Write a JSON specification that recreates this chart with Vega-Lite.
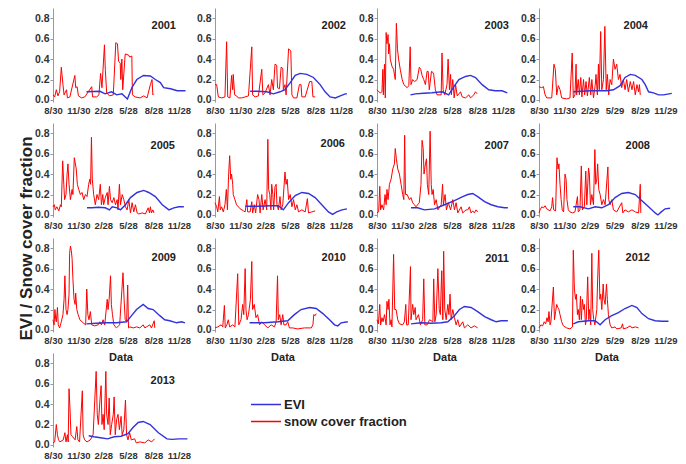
{
"$schema":"https://vega.github.io/schema/vega-lite/v6.json",
"padding":{"left":16,"top":8,"right":5,"bottom":5},
"bounds":"flush",
"columns":4,
"spacing":{"row":21,"column":27},
"resolve":{"scale":{"color":"independent"},"legend":{"color":"independent"}},
"data":{"values":[
{"yr":2001,"s":"EVI","d":[121,170,188,212,230,249,269,285,303,327,352,370,388,400,425,449,479],"v":[0.08,0.085,0.06,0.08,0.05,0.06,0.01,0.12,0.2,0.24,0.235,0.2,0.17,0.12,0.11,0.09,0.09]},
{"yr":2001,"s":"snow cover fraction","d":[0,6,12,18,24,30,36,40,49,52,61,79,82,87,92,103,115,140,143,158,166,172,177,186,189,194,204,218,227,233,237,243,245,249,252,261,273,277,285,287,297,315,328,340,352,358,361,364],"v":[0.05,0.03,0.1,0.04,0.08,0.32,0.15,0.05,0.1,0.02,0.03,0.24,0.12,0.13,0.04,0.02,0.03,0.13,0.03,0.03,0.05,0.26,0.12,0.54,0.3,0.07,0.04,0.05,0.56,0.55,0.38,0.36,0.2,0.4,0.1,0.45,0.44,0.42,0.43,0.05,0.03,0.02,0.04,0.02,0.15,0.2,0.05,0.06]},
{"yr":2002,"s":"EVI","d":[127,151,187,211,235,253,272,290,308,332,356,380,398,416,435,453,471,477],"v":[0.085,0.085,0.08,0.06,0.08,0.1,0.17,0.24,0.26,0.25,0.22,0.15,0.08,0.03,0.02,0.04,0.06,0.06]},
{"yr":2002,"s":"snow cover fraction","d":[0,6,12,24,36,42,46,54,60,64,66,71,78,84,97,109,121,133,136,145,157,169,173,181,193,199,205,211,217,223,226,233,239,245,247,253,257,266,274,278,284,296,305,311,314,326,342,350,354,362],"v":[0.15,0.15,0.03,0.02,0.03,0.57,0.03,0.02,0.24,0.1,0.25,0.05,0.04,0.02,0.02,0.03,0.04,0.52,0.05,0.03,0.04,0.3,0.05,0.07,0.15,0.05,0.2,0.1,0.35,0.34,0.12,0.11,0.32,0.31,0.1,0.15,0.05,0.5,0.48,0.05,0.02,0.02,0.15,0.15,0.03,0.03,0.18,0.18,0.03,0.03]},
{"yr":2003,"s":"EVI","d":[121,139,169,199,235,259,278,296,320,338,356,380,404,428,452,471],"v":[0.05,0.06,0.065,0.07,0.08,0.05,0.13,0.2,0.23,0.24,0.22,0.15,0.1,0.09,0.09,0.07]},
{"yr":2003,"s":"snow cover fraction","d":[0,6,12,18,21,23,27,30,33,36,40,42,45,48,54,60,66,70,74,78,84,91,97,109,115,120,123,129,136,145,153,158,163,169,175,181,185,189,197,202,205,211,217,232,235,239,245,253,257,262,266,269,274,279,284,290,302,308,320,332,338,350,356,362],"v":[0.1,0.08,0.07,0.08,0.3,0.05,0.35,0.02,0.66,0.55,0.64,0.45,0.55,0.4,0.33,0.3,0.2,0.75,0.5,0.4,0.3,0.2,0.15,0.12,0.14,0.52,0.15,0.2,0.18,0.2,0.32,0.3,0.24,0.2,0.15,0.28,0.28,0.1,0.28,0.27,0.25,0.1,0.05,0.05,0.46,0.1,0.05,0.15,0.4,0.1,0.25,0.05,0.2,0.02,0.15,0.04,0.08,0.03,0.02,0.05,0.02,0.05,0.08,0.06]},
{"yr":2004,"s":"EVI","d":[124,185,245,269,293,311,330,348,372,384,396,414,432,450,480],"v":[0.08,0.09,0.09,0.1,0.14,0.22,0.25,0.24,0.2,0.15,0.08,0.07,0.05,0.05,0.065]},
{"yr":2004,"s":"snow cover fraction","d":[0,10,16,22,28,46,54,59,64,70,76,82,100,112,120,124,130,134,136,142,146,151,155,161,165,170,175,182,187,191,197,203,206,211,215,218,223,227,233,238,243,247,252,257,263,269,275,281,287,293,299,305,311,317,323,330,336,342,348,354,360,363,366],"v":[0.13,0.12,0.13,0.05,0.02,0.02,0.35,0.3,0.05,0.14,0.1,0.02,0.01,0.02,0.46,0.02,0.05,0.35,0.05,0.2,0.05,0.22,0.03,0.2,0.05,0.18,0.04,0.22,0.05,0.2,0.02,0.14,0.25,0.05,0.35,0.1,0.67,0.1,0.2,0.72,0.1,0.25,0.05,0.2,0.15,0.4,0.3,0.35,0.2,0.25,0.12,0.2,0.1,0.2,0.08,0.18,0.1,0.18,0.05,0.15,0.08,0.15,0.05]},
{"yr":2005,"s":"EVI","d":[123,141,165,189,204,214,232,244,262,280,304,328,346,370,395,419,437,455,473],"v":[0.07,0.07,0.075,0.07,0.05,0.08,0.07,0.05,0.1,0.17,0.22,0.24,0.22,0.18,0.1,0.05,0.07,0.08,0.08]},
{"yr":2005,"s":"snow cover fraction","d":[0,5,8,14,21,27,30,35,39,42,47,51,54,58,63,69,72,77,81,84,88,93,99,105,111,117,123,129,133,136,139,142,147,153,159,165,171,175,180,183,189,196,199,204,208,214,220,226,232,235,240,244,250,256,262,268,274,280,286,292,298,304,310,322,334,344,349,352,356,361,365],"v":[0.08,0.1,0.05,0.08,0.04,0.1,0.08,0.53,0.3,0.15,0.2,0.4,0.5,0.3,0.15,0.25,0.2,0.56,0.5,0.45,0.3,0.25,0.2,0.22,0.15,0.2,0.18,0.3,0.35,0.3,0.76,0.35,0.2,0.1,0.2,0.15,0.3,0.1,0.2,0.1,0.17,0.22,0.1,0.28,0.15,0.12,0.17,0.1,0.15,0.05,0.3,0.1,0.2,0.15,0.08,0.05,0.15,0.02,0.12,0.03,0.1,0.02,0.01,0.02,0.01,0.07,0.02,0.08,0.02,0.05,0.02]},
{"yr":2006,"s":"EVI","d":[110,160,200,229,247,266,290,314,338,362,386,410,425,440,459,477],"v":[0.085,0.085,0.09,0.09,0.05,0.12,0.19,0.22,0.21,0.17,0.1,0.03,0.005,0.03,0.05,0.06]},
{"yr":2006,"s":"snow cover fraction","d":[0,6,10,16,19,24,30,36,41,45,49,53,57,60,64,66,72,78,91,103,109,115,118,127,133,136,142,147,154,159,163,169,174,181,187,191,194,198,202,205,209,212,217,221,224,229,235,239,245,253,257,261,266,272,278,284,290,296,302,314,326,334,338,350,362],"v":[0.12,0.08,0.03,0.18,0.05,0.08,0.03,0.1,0.25,0.05,0.38,0.58,0.35,0.4,0.3,0.2,0.15,0.1,0.06,0.04,0.03,0.15,0.03,0.03,0.13,0.02,0.1,0.02,0.2,0.15,0.02,0.2,0.05,0.15,0.05,0.74,0.25,0.2,0.05,0.3,0.2,0.05,0.28,0.3,0.1,0.05,0.18,0.05,0.1,0.42,0.3,0.35,0.15,0.2,0.08,0.15,0.05,0.1,0.03,0.05,0.03,0.16,0.02,0.03,0.04]},
{"yr":2007,"s":"EVI","d":[123,147,171,208,244,280,310,328,346,364,389,413,437,461,473],"v":[0.07,0.07,0.05,0.06,0.1,0.14,0.18,0.2,0.21,0.18,0.13,0.1,0.08,0.07,0.07]},
{"yr":2007,"s":"snow cover fraction","d":[0,6,10,13,18,24,29,33,36,40,45,51,57,63,66,70,75,81,87,93,97,100,103,109,117,123,129,135,141,153,159,163,167,170,175,179,182,187,192,196,199,203,208,214,220,232,237,240,246,251,258,266,274,280,286,292,304,310,322,328,334,340,346,352,358,364],"v":[0.02,0.03,0.28,0.05,0.1,0.05,0.2,0.1,0.25,0.15,0.3,0.35,0.45,0.5,0.65,0.55,0.45,0.4,0.3,0.2,0.15,0.78,0.2,0.2,0.15,0.17,0.12,0.1,0.08,0.12,0.3,0.73,0.65,0.4,0.5,0.55,0.3,0.2,0.82,0.3,0.2,0.25,0.1,0.15,0.05,0.1,0.3,0.1,0.2,0.05,0.12,0.05,0.15,0.05,0.12,0.02,0.08,0.02,0.05,0.05,0.08,0.02,0.04,0.02,0.05,0.03]},
{"yr":2008,"s":"EVI","d":[124,148,179,203,227,251,275,299,323,348,372,396,420,430,442,456,474],"v":[0.08,0.08,0.06,0.08,0.07,0.1,0.17,0.21,0.22,0.2,0.14,0.08,0.02,0.0,0.03,0.06,0.065]},
{"yr":2008,"s":"snow cover fraction","d":[0,4,10,16,22,28,40,46,49,53,60,65,69,72,76,80,84,89,94,98,101,106,112,121,130,139,142,148,153,157,164,169,173,179,182,186,191,197,202,205,209,212,216,221,227,233,239,249,252,257,263,269,281,299,303,311,323,336,348,360,366,368],"v":[0.02,0.05,0.08,0.07,0.09,0.06,0.04,0.08,0.17,0.05,0.04,0.56,0.45,0.5,0.3,0.15,0.05,0.03,0.4,0.35,0.15,0.05,0.03,0.02,0.03,0.18,0.03,0.05,0.48,0.05,0.08,0.43,0.1,0.46,0.4,0.1,0.2,0.1,0.64,0.3,0.35,0.5,0.25,0.2,0.1,0.15,0.1,0.47,0.15,0.1,0.15,0.05,0.03,0.12,0.02,0.05,0.03,0.05,0.03,0.02,0.3,0.02]},
{"yr":2009,"s":"EVI","d":[121,157,193,229,266,284,302,326,344,362,386,404,422,447,465,477],"v":[0.06,0.065,0.07,0.07,0.08,0.14,0.2,0.25,0.21,0.2,0.14,0.1,0.09,0.07,0.08,0.07]},
{"yr":2009,"s":"snow cover fraction","d":[0,4,7,10,12,16,19,24,30,36,40,43,47,51,54,58,60,63,66,69,72,76,80,82,86,91,97,109,118,122,126,130,135,140,151,163,169,175,181,187,196,199,203,208,211,215,220,229,241,253,257,261,266,270,273,278,290,302,314,326,332,338,350,356,366,368],"v":[0.1,0.05,0.2,0.1,0.08,0.22,0.05,0.02,0.08,0.15,0.3,0.53,0.2,0.15,0.2,0.35,0.75,0.82,0.78,0.7,0.5,0.3,0.25,0.36,0.2,0.15,0.1,0.07,0.05,0.4,0.15,0.1,0.18,0.05,0.04,0.05,0.08,0.05,0.1,0.05,0.3,0.2,0.3,0.53,0.25,0.15,0.05,0.02,0.05,0.56,0.3,0.1,0.08,0.44,0.02,0.03,0.02,0.03,0.02,0.05,0.02,0.03,0.05,0.02,0.09,0.02]},
{"yr":2010,"s":"EVI","d":[125,179,227,263,287,311,342,366,390,414,432,444,456,480],"v":[0.07,0.07,0.08,0.09,0.15,0.2,0.22,0.21,0.16,0.1,0.05,0.04,0.07,0.08]},
{"yr":2010,"s":"snow cover fraction","d":[0,10,22,28,34,37,43,48,53,64,72,82,86,94,100,104,109,112,116,121,128,133,136,142,148,154,161,169,179,191,203,215,221,226,229,234,239,245,249,257,263,269,281,299,323,348,354,357,362,366],"v":[0.02,0.03,0.05,0.03,0.24,0.02,0.05,0.1,0.03,0.05,0.03,0.55,0.05,0.1,0.25,0.15,0.6,0.2,0.1,0.15,0.3,0.67,0.2,0.25,0.12,0.15,0.05,0.08,0.05,0.02,0.05,0.03,0.08,0.53,0.1,0.15,0.05,0.15,0.05,0.05,0.08,0.02,0.02,0.01,0.02,0.02,0.05,0.15,0.14,0.16]},
{"yr":2011,"s":"EVI","d":[123,159,196,232,256,280,298,316,340,364,389,413,431,449,473],"v":[0.06,0.07,0.065,0.07,0.08,0.14,0.2,0.23,0.22,0.18,0.13,0.1,0.08,0.09,0.09]},
{"yr":2011,"s":"snow cover fraction","d":[0,5,10,13,18,22,27,33,36,40,43,47,51,54,60,64,69,75,81,93,99,104,107,113,121,123,129,133,138,141,150,157,165,169,173,181,190,202,205,209,214,220,225,229,234,238,241,245,250,256,260,264,268,274,280,286,292,298,310,316,328,340,352,364],"v":[0.1,0.06,0.25,0.05,0.12,0.08,0.15,0.05,0.28,0.2,0.3,0.05,0.1,0.03,0.74,0.2,0.2,0.1,0.06,0.05,0.08,0.25,0.05,0.05,0.62,0.1,0.25,0.15,0.22,0.1,0.15,0.05,0.1,0.5,0.05,0.05,0.1,0.08,0.5,0.08,0.15,0.6,0.2,0.15,0.58,0.1,0.77,0.2,0.1,0.25,0.15,0.35,0.1,0.2,0.12,0.05,0.1,0.03,0.08,0.02,0.05,0.02,0.04,0.02]},
{"yr":2012,"s":"EVI","d":[124,142,179,203,221,239,263,287,311,336,354,372,396,420,444,468],"v":[0.06,0.08,0.09,0.09,0.05,0.1,0.14,0.17,0.21,0.24,0.22,0.16,0.11,0.09,0.085,0.085]},
{"yr":2012,"s":"snow cover fraction","d":[0,7,13,19,24,29,33,36,40,43,52,56,60,64,68,72,76,82,88,100,112,121,124,128,132,135,139,142,146,150,153,157,161,164,168,171,176,180,183,187,191,194,198,202,209,212,216,220,223,227,232,235,239,244,247,251,257,263,275,281,297,302,305,317,330,336,348,360],"v":[0.02,0.05,0.04,0.08,0.06,0.12,0.08,0.18,0.05,0.08,0.42,0.1,0.18,0.25,0.22,0.2,0.15,0.08,0.04,0.02,0.01,0.03,0.78,0.4,0.3,0.35,0.15,0.2,0.1,0.33,0.1,0.3,0.2,0.25,0.05,0.1,0.52,0.1,0.2,0.05,0.75,0.2,0.1,0.05,0.2,0.5,0.78,0.3,0.35,0.2,0.45,0.3,0.25,0.45,0.3,0.15,0.05,0.02,0.03,0.01,0.02,0.06,0.01,0.02,0.04,0.02,0.03,0.02]},
{"yr":2013,"s":"EVI","d":[129,148,172,197,221,246,271,289,308,326,351,381,412,430,455,486],"v":[0.09,0.08,0.07,0.06,0.08,0.085,0.11,0.17,0.22,0.23,0.2,0.12,0.06,0.055,0.06,0.06]},
{"yr":2013,"s":"snow cover fraction","d":[0,6,12,16,20,25,37,43,47,52,55,58,62,65,71,80,86,90,96,106,109,114,123,135,145,156,160,164,170,174,177,181,185,191,194,199,203,207,212,218,221,225,230,235,240,246,250,256,262,266,271,277,283,295,301,314,332,344,357,367],"v":[0.02,0.03,0.2,0.1,0.05,0.03,0.05,0.12,0.03,0.1,0.03,0.55,0.32,0.1,0.08,0.05,0.18,0.05,0.03,0.53,0.1,0.05,0.03,0.05,0.1,0.72,0.3,0.2,0.45,0.58,0.2,0.3,0.15,0.72,0.3,0.2,0.46,0.1,0.2,0.3,0.47,0.1,0.25,0.3,0.15,0.28,0.1,0.15,0.44,0.1,0.05,0.12,0.05,0.06,0.02,0.03,0.02,0.05,0.03,0.06]}
]},
"concat":[
{"width":135,"height":94,"title":{"text":"2001","anchor":"end","frame":"group","offset":-32,"dx":-12,"baseline":"alphabetic"},
 "transform":[{"filter":"datum.yr==2001"},{"flatten":["d","v"]}],
 "encoding":{"x":{"field":"d","type":"quantitative","scale":{"domain":[0,488],"nice":false,"zero":false},"axis":{"values":[0,92,182,271,363,455],"labelExpr":"datum.value==0?'8/30':datum.value==92?'11/30':datum.value==182?'2/28':datum.value==183?'2/29':datum.value==271?'5/28':datum.value==273?'5/29':datum.value==363?'8/28':datum.value==365?'8/29':datum.value==455?'11/28':'11/29'","title":null}},
  "y":{"field":"v","type":"quantitative","scale":{"domain":[-0.02,0.9],"nice":false},"axis":{"values":[0,0.2,0.4,0.6,0.8],"format":".1f","title":null}},
  "color":{"field":"s","type":"nominal","scale":{"domain":["EVI","snow cover fraction"],"range":["#3232dc","#ff0000"]},"legend":null}},
 "layer":[{"transform":[{"filter":"datum.s!='EVI'"}],"mark":{"type":"line","strokeWidth":1}},{"transform":[{"filter":"datum.s=='EVI'"}],"mark":{"type":"line","strokeWidth":1.4}}]},
{"width":135,"height":94,"title":{"text":"2002","anchor":"end","frame":"group","offset":-32,"dx":-4,"baseline":"alphabetic"},
 "transform":[{"filter":"datum.yr==2002"},{"flatten":["d","v"]}],
 "encoding":{"x":{"field":"d","type":"quantitative","scale":{"domain":[0,488],"nice":false,"zero":false},"axis":{"values":[0,92,182,271,363,455],"labelExpr":"datum.value==0?'8/30':datum.value==92?'11/30':datum.value==182?'2/28':datum.value==183?'2/29':datum.value==271?'5/28':datum.value==273?'5/29':datum.value==363?'8/28':datum.value==365?'8/29':datum.value==455?'11/28':'11/29'","title":null}},
  "y":{"field":"v","type":"quantitative","scale":{"domain":[-0.02,0.9],"nice":false},"axis":{"values":[0,0.2,0.4,0.6,0.8],"format":".1f","title":null}},
  "color":{"field":"s","type":"nominal","scale":{"domain":["EVI","snow cover fraction"],"range":["#3232dc","#ff0000"]},"legend":null}},
 "layer":[{"transform":[{"filter":"datum.s!='EVI'"}],"mark":{"type":"line","strokeWidth":1}},{"transform":[{"filter":"datum.s=='EVI'"}],"mark":{"type":"line","strokeWidth":1.4}}]},
{"width":135,"height":94,"title":{"text":"2003","anchor":"end","frame":"group","offset":-32,"dx":-3,"baseline":"alphabetic"},
 "transform":[{"filter":"datum.yr==2003"},{"flatten":["d","v"]}],
 "encoding":{"x":{"field":"d","type":"quantitative","scale":{"domain":[0,488],"nice":false,"zero":false},"axis":{"values":[0,92,182,271,363,455],"labelExpr":"datum.value==0?'8/30':datum.value==92?'11/30':datum.value==182?'2/28':datum.value==183?'2/29':datum.value==271?'5/28':datum.value==273?'5/29':datum.value==363?'8/28':datum.value==365?'8/29':datum.value==455?'11/28':'11/29'","title":null}},
  "y":{"field":"v","type":"quantitative","scale":{"domain":[-0.02,0.9],"nice":false},"axis":{"values":[0,0.2,0.4,0.6,0.8],"format":".1f","title":null}},
  "color":{"field":"s","type":"nominal","scale":{"domain":["EVI","snow cover fraction"],"range":["#3232dc","#ff0000"]},"legend":null}},
 "layer":[{"transform":[{"filter":"datum.s!='EVI'"}],"mark":{"type":"line","strokeWidth":1}},{"transform":[{"filter":"datum.s=='EVI'"}],"mark":{"type":"line","strokeWidth":1.4}}]},
{"width":135,"height":94,"title":{"text":"2004","anchor":"end","frame":"group","offset":-32,"dx":-26,"baseline":"alphabetic"},
 "transform":[{"filter":"datum.yr==2004"},{"flatten":["d","v"]}],
 "encoding":{"x":{"field":"d","type":"quantitative","scale":{"domain":[0,488],"nice":false,"zero":false},"axis":{"values":[0,92,183,273,365,457],"labelExpr":"datum.value==0?'8/30':datum.value==92?'11/30':datum.value==182?'2/28':datum.value==183?'2/29':datum.value==271?'5/28':datum.value==273?'5/29':datum.value==363?'8/28':datum.value==365?'8/29':datum.value==455?'11/28':'11/29'","title":null}},
  "y":{"field":"v","type":"quantitative","scale":{"domain":[-0.02,0.9],"nice":false},"axis":{"values":[0,0.2,0.4,0.6,0.8],"format":".1f","title":null}},
  "color":{"field":"s","type":"nominal","scale":{"domain":["EVI","snow cover fraction"],"range":["#3232dc","#ff0000"]},"legend":null}},
 "layer":[{"transform":[{"filter":"datum.s!='EVI'"}],"mark":{"type":"line","strokeWidth":1}},{"transform":[{"filter":"datum.s=='EVI'"}],"mark":{"type":"line","strokeWidth":1.4}}]},
{"width":135,"height":94,"title":{"text":"2005","anchor":"end","frame":"group","offset":-37,"dx":-13,"baseline":"alphabetic"},
 "transform":[{"filter":"datum.yr==2005"},{"flatten":["d","v"]}],
 "encoding":{"x":{"field":"d","type":"quantitative","scale":{"domain":[0,488],"nice":false,"zero":false},"axis":{"values":[0,92,182,271,363,455],"labelExpr":"datum.value==0?'8/30':datum.value==92?'11/30':datum.value==182?'2/28':datum.value==183?'2/29':datum.value==271?'5/28':datum.value==273?'5/29':datum.value==363?'8/28':datum.value==365?'8/29':datum.value==455?'11/28':'11/29'","title":null}},
  "y":{"field":"v","type":"quantitative","scale":{"domain":[-0.02,0.9],"nice":false},"axis":{"values":[0,0.2,0.4,0.6,0.8],"format":".1f","title":"EVI / Snow cover fraction","titleX":-22,"titleY":115,"titleBaseline":"alphabetic","titleAlign":"center","titleAngle":-90}},
  "color":{"field":"s","type":"nominal","scale":{"domain":["EVI","snow cover fraction"],"range":["#3232dc","#ff0000"]},"legend":null}},
 "layer":[{"transform":[{"filter":"datum.s!='EVI'"}],"mark":{"type":"line","strokeWidth":1}},{"transform":[{"filter":"datum.s=='EVI'"}],"mark":{"type":"line","strokeWidth":1.4}}]},
{"width":135,"height":94,"title":{"text":"2006","anchor":"end","frame":"group","offset":-35,"dx":-5,"baseline":"alphabetic"},
 "transform":[{"filter":"datum.yr==2006"},{"flatten":["d","v"]}],
 "encoding":{"x":{"field":"d","type":"quantitative","scale":{"domain":[0,488],"nice":false,"zero":false},"axis":{"values":[0,92,182,271,363,455],"labelExpr":"datum.value==0?'8/30':datum.value==92?'11/30':datum.value==182?'2/28':datum.value==183?'2/29':datum.value==271?'5/28':datum.value==273?'5/29':datum.value==363?'8/28':datum.value==365?'8/29':datum.value==455?'11/28':'11/29'","title":null}},
  "y":{"field":"v","type":"quantitative","scale":{"domain":[-0.02,0.9],"nice":false},"axis":{"values":[0,0.2,0.4,0.6,0.8],"format":".1f","title":null}},
  "color":{"field":"s","type":"nominal","scale":{"domain":["EVI","snow cover fraction"],"range":["#3232dc","#ff0000"]},"legend":null}},
 "layer":[{"transform":[{"filter":"datum.s!='EVI'"}],"mark":{"type":"line","strokeWidth":1}},{"transform":[{"filter":"datum.s=='EVI'"}],"mark":{"type":"line","strokeWidth":1.4}}]},
{"width":135,"height":94,"title":{"text":"2007","anchor":"end","frame":"group","offset":-37,"dx":-3,"baseline":"alphabetic"},
 "transform":[{"filter":"datum.yr==2007"},{"flatten":["d","v"]}],
 "encoding":{"x":{"field":"d","type":"quantitative","scale":{"domain":[0,488],"nice":false,"zero":false},"axis":{"values":[0,92,182,271,363,455],"labelExpr":"datum.value==0?'8/30':datum.value==92?'11/30':datum.value==182?'2/28':datum.value==183?'2/29':datum.value==271?'5/28':datum.value==273?'5/29':datum.value==363?'8/28':datum.value==365?'8/29':datum.value==455?'11/28':'11/29'","title":null}},
  "y":{"field":"v","type":"quantitative","scale":{"domain":[-0.02,0.9],"nice":false},"axis":{"values":[0,0.2,0.4,0.6,0.8],"format":".1f","title":null}},
  "color":{"field":"s","type":"nominal","scale":{"domain":["EVI","snow cover fraction"],"range":["#3232dc","#ff0000"]},"legend":null}},
 "layer":[{"transform":[{"filter":"datum.s!='EVI'"}],"mark":{"type":"line","strokeWidth":1}},{"transform":[{"filter":"datum.s=='EVI'"}],"mark":{"type":"line","strokeWidth":1.4}}]},
{"width":135,"height":94,"title":{"text":"2008","anchor":"end","frame":"group","offset":-37,"dx":-24,"baseline":"alphabetic"},
 "transform":[{"filter":"datum.yr==2008"},{"flatten":["d","v"]}],
 "encoding":{"x":{"field":"d","type":"quantitative","scale":{"domain":[0,488],"nice":false,"zero":false},"axis":{"values":[0,92,183,273,365,457],"labelExpr":"datum.value==0?'8/30':datum.value==92?'11/30':datum.value==182?'2/28':datum.value==183?'2/29':datum.value==271?'5/28':datum.value==273?'5/29':datum.value==363?'8/28':datum.value==365?'8/29':datum.value==455?'11/28':'11/29'","title":null}},
  "y":{"field":"v","type":"quantitative","scale":{"domain":[-0.02,0.9],"nice":false},"axis":{"values":[0,0.2,0.4,0.6,0.8],"format":".1f","title":null}},
  "color":{"field":"s","type":"nominal","scale":{"domain":["EVI","snow cover fraction"],"range":["#3232dc","#ff0000"]},"legend":null}},
 "layer":[{"transform":[{"filter":"datum.s!='EVI'"}],"mark":{"type":"line","strokeWidth":1}},{"transform":[{"filter":"datum.s=='EVI'"}],"mark":{"type":"line","strokeWidth":1.4}}]},
{"width":135,"height":94,"title":{"text":"2009","anchor":"end","frame":"group","offset":-34,"dx":-12,"baseline":"alphabetic"},
 "transform":[{"filter":"datum.yr==2009"},{"flatten":["d","v"]}],
 "encoding":{"x":{"field":"d","type":"quantitative","scale":{"domain":[0,488],"nice":false,"zero":false},"axis":{"values":[0,92,182,271,363,455],"labelExpr":"datum.value==0?'8/30':datum.value==92?'11/30':datum.value==182?'2/28':datum.value==183?'2/29':datum.value==271?'5/28':datum.value==273?'5/29':datum.value==363?'8/28':datum.value==365?'8/29':datum.value==455?'11/28':'11/29'","title":"Data"}},
  "y":{"field":"v","type":"quantitative","scale":{"domain":[-0.02,0.9],"nice":false},"axis":{"values":[0,0.2,0.4,0.6,0.8],"format":".1f","title":null}},
  "color":{"field":"s","type":"nominal","scale":{"domain":["EVI","snow cover fraction"],"range":["#3232dc","#ff0000"]},"legend":null}},
 "layer":[{"transform":[{"filter":"datum.s!='EVI'"}],"mark":{"type":"line","strokeWidth":1}},{"transform":[{"filter":"datum.s=='EVI'"}],"mark":{"type":"line","strokeWidth":1.4}}]},
{"width":135,"height":94,"title":{"text":"2010","anchor":"end","frame":"group","offset":-34,"dx":-4,"baseline":"alphabetic"},
 "transform":[{"filter":"datum.yr==2010"},{"flatten":["d","v"]}],
 "encoding":{"x":{"field":"d","type":"quantitative","scale":{"domain":[0,488],"nice":false,"zero":false},"axis":{"values":[0,92,182,271,363,455],"labelExpr":"datum.value==0?'8/30':datum.value==92?'11/30':datum.value==182?'2/28':datum.value==183?'2/29':datum.value==271?'5/28':datum.value==273?'5/29':datum.value==363?'8/28':datum.value==365?'8/29':datum.value==455?'11/28':'11/29'","title":"Data"}},
  "y":{"field":"v","type":"quantitative","scale":{"domain":[-0.02,0.9],"nice":false},"axis":{"values":[0,0.2,0.4,0.6,0.8],"format":".1f","title":null}},
  "color":{"field":"s","type":"nominal","scale":{"domain":["EVI","snow cover fraction"],"range":["#3232dc","#ff0000"]},"legend":null}},
 "layer":[{"transform":[{"filter":"datum.s!='EVI'"}],"mark":{"type":"line","strokeWidth":1}},{"transform":[{"filter":"datum.s=='EVI'"}],"mark":{"type":"line","strokeWidth":1.4}}]},
{"width":135,"height":94,"title":{"text":"2011","anchor":"end","frame":"group","offset":-35,"dx":-3,"baseline":"alphabetic"},
 "transform":[{"filter":"datum.yr==2011"},{"flatten":["d","v"]}],
 "encoding":{"x":{"field":"d","type":"quantitative","scale":{"domain":[0,488],"nice":false,"zero":false},"axis":{"values":[0,92,182,271,363,455],"labelExpr":"datum.value==0?'8/30':datum.value==92?'11/30':datum.value==182?'2/28':datum.value==183?'2/29':datum.value==271?'5/28':datum.value==273?'5/29':datum.value==363?'8/28':datum.value==365?'8/29':datum.value==455?'11/28':'11/29'","title":"Data"}},
  "y":{"field":"v","type":"quantitative","scale":{"domain":[-0.02,0.9],"nice":false},"axis":{"values":[0,0.2,0.4,0.6,0.8],"format":".1f","title":null}},
  "color":{"field":"s","type":"nominal","scale":{"domain":["EVI","snow cover fraction"],"range":["#3232dc","#ff0000"]},"legend":null}},
 "layer":[{"transform":[{"filter":"datum.s!='EVI'"}],"mark":{"type":"line","strokeWidth":1}},{"transform":[{"filter":"datum.s=='EVI'"}],"mark":{"type":"line","strokeWidth":1.4}}]},
{"width":135,"height":94,"title":{"text":"2012","anchor":"end","frame":"group","offset":-34,"dx":-24,"baseline":"alphabetic"},
 "transform":[{"filter":"datum.yr==2012"},{"flatten":["d","v"]}],
 "encoding":{"x":{"field":"d","type":"quantitative","scale":{"domain":[0,488],"nice":false,"zero":false},"axis":{"values":[0,92,183,273,365,457],"labelExpr":"datum.value==0?'8/30':datum.value==92?'11/30':datum.value==182?'2/28':datum.value==183?'2/29':datum.value==271?'5/28':datum.value==273?'5/29':datum.value==363?'8/28':datum.value==365?'8/29':datum.value==455?'11/28':'11/29'","title":"Data"}},
  "y":{"field":"v","type":"quantitative","scale":{"domain":[-0.02,0.9],"nice":false},"axis":{"values":[0,0.2,0.4,0.6,0.8],"format":".1f","title":null}},
  "color":{"field":"s","type":"nominal","scale":{"domain":["EVI","snow cover fraction"],"range":["#3232dc","#ff0000"]},"legend":null}},
 "layer":[{"transform":[{"filter":"datum.s!='EVI'"}],"mark":{"type":"line","strokeWidth":1}},{"transform":[{"filter":"datum.s=='EVI'"}],"mark":{"type":"line","strokeWidth":1.4}}]},
{"width":135,"height":94,"title":{"text":"2013","anchor":"end","frame":"group","offset":-42,"dx":-13,"baseline":"alphabetic"},
 "transform":[{"filter":"datum.yr==2013"},{"flatten":["d","v"]}],
 "encoding":{"x":{"field":"d","type":"quantitative","scale":{"domain":[0,488],"nice":false,"zero":false},"axis":{"values":[0,92,182,271,363,455],"labelExpr":"datum.value==0?'8/30':datum.value==92?'11/30':datum.value==182?'2/28':datum.value==183?'2/29':datum.value==271?'5/28':datum.value==273?'5/29':datum.value==363?'8/28':datum.value==365?'8/29':datum.value==455?'11/28':'11/29'","title":null}},
  "y":{"field":"v","type":"quantitative","scale":{"domain":[-0.02,0.9],"nice":false},"axis":{"values":[0,0.2,0.4,0.6,0.8],"format":".1f","title":null}},
  "color":{"field":"s","type":"nominal","scale":{"domain":["EVI","snow cover fraction"],"range":["#3232dc","#ff0000"]},"legend":{"title":null,"orient":"none","legendX":197,"legendY":44,"symbolType":"stroke","symbolSize":900,"symbolStrokeWidth":1.5,"clipHeight":15,"labelFontSize":13,"labelFont":"Liberation Sans","labelFontWeight":"bold","labelColor":"#222","labelOffset":2,"rowPadding":2,"padding":0}}},
 "layer":[{"transform":[{"filter":"datum.s!='EVI'"}],"mark":{"type":"line","strokeWidth":1}},{"transform":[{"filter":"datum.s=='EVI'"}],"mark":{"type":"line","strokeWidth":1.4}}]}
],
"config":{
 "view":{"stroke":null},
 "font":"Liberation Sans",
 "axis":{"labelFont":"Liberation Sans","labelFontWeight":"bold","labelColor":"#333","grid":false,"domainColor":"#999","tickColor":"#999","tickSize":3,"labelPadding":1,"titleFont":"Liberation Sans","titleFontWeight":"bold","titleColor":"#222"},
 "axisX":{"domain":false,"ticks":false,"labelFontSize":9.5,"labelOverlap":false,"labelFlush":false,"labelPadding":3,"titleFontSize":11,"titlePadding":7},
 "axisY":{"labelFontSize":10.5,"titleFontSize":17},
 "title":{"font":"Liberation Sans","fontSize":11,"fontWeight":"bold","color":"#222"}
}
}
